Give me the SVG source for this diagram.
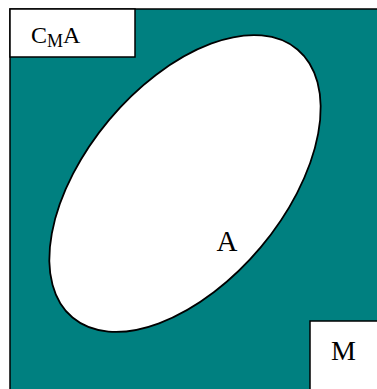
<svg xmlns="http://www.w3.org/2000/svg" width="377" height="389" viewBox="0 0 377 389">
<style>
.t{font-family:"Liberation Serif","Times New Roman",serif;fill:#000}
.box{fill:#fff;stroke:#000;stroke-width:1.5}
</style>
<rect width="377" height="389" fill="#fff"/>
<g id="M-set">
<rect x="10" y="9" width="380" height="390" fill="#008080" stroke="#000" stroke-width="1.5"/>
</g>
<g id="A-set">
<ellipse cx="185" cy="183.5" rx="175" ry="99" transform="rotate(-50 185 183.5)" fill="#fff" stroke="#000" stroke-width="1.8"/>
<text class="t" x="216.5" y="251" font-size="29">A</text>
</g>
<g id="label-CMA">
<rect class="box" x="10" y="9" width="125" height="48"/>
<text class="t" x="31" y="43.3" font-size="24">C<tspan font-size="18" dy="4">M</tspan><tspan dy="-4">A</tspan></text>
</g>
<g id="label-M">
<rect class="box" x="310" y="321" width="80" height="80"/>
<text class="t" x="331" y="360" font-size="28">M</text>
</g>
</svg>
